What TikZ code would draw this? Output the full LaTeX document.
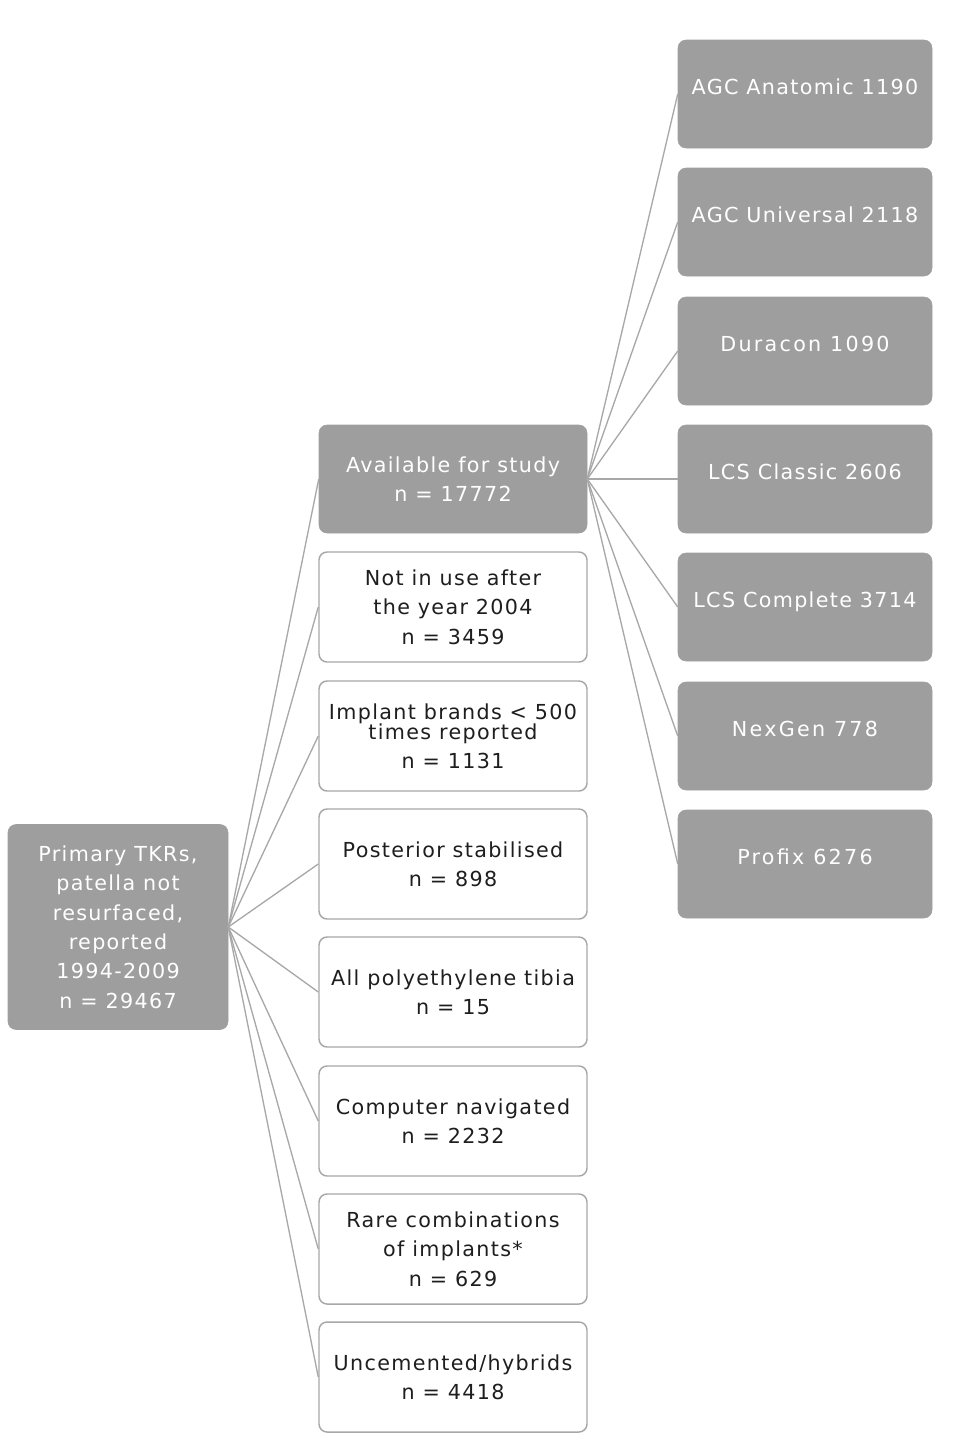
\documentclass[tikz,border=0pt]{standalone}
\usepackage{fontspec}
\setmainfont[LetterSpace=6.5]{DejaVu Sans}
\newfontfamily\widefont[LetterSpace=11]{DejaVu Sans}
\definecolor{boxgray}{HTML}{9E9E9E}
\definecolor{linegray}{HTML}{A8A8A8}
\definecolor{textdark}{HTML}{1E1E1E}
\tikzset{
  graybox/.style={draw=boxgray, fill=boxgray, text=white, rounded corners=6pt, align=center},
  whitebox/.style={draw=linegray, line width=1.1pt, fill=white, text=textdark, rounded corners=6pt, align=center,
    minimum width=201pt, minimum height=82.5pt},
  brandbox/.style={graybox, minimum width=190.5pt, minimum height=81pt, text height=12pt, text depth=12pt},
  link/.style={draw=linegray, line width=1pt}
}
\begin{document}
\begin{tikzpicture}[x=0.75pt, y=-0.75pt, font=\fontsize{15.5}{22}\selectfont]
\useasboundingbox (0,0) rectangle (963,1439);
% root box
\node[graybox, minimum width=165pt, minimum height=153.75pt] (root) at (118,927)
  {Primary TKRs,\\patella not\\resurfaced,\\reported\\1994-2009\\n = 29467};
% second column
\node[graybox, minimum width=201pt, minimum height=81pt] (mid0) at (453,479)
  {Available for study\\n = 17772};
\foreach \y/\i/\t in {607/1/{Not in use after\\the year 2004\\n = 3459},
                      736/2/{Implant brands < 500\\[-7pt]times reported\\n = 1131},
                      864/3/{Posterior stabilised\\n = 898},
                      992/4/{All polyethylene tibia\\n = 15},
                      1121/5/{Computer navigated\\n = 2232},
                      1249/6/{Rare combinations\\of implants*\\n = 629},
                      1377/7/{Uncemented/hybrids\\n = 4418}}
  \node[whitebox] (mid\i) at (453,\y) {\t};
% brands
\foreach \y/\i/\t in {94/1/AGC Anatomic 1190, 222/2/AGC Universal 2118, 351/3/{\widefont Duracon 1090},
                      479/4/LCS Classic 2606, 607/5/LCS Complete 3714, 736/6/{\widefont NexGen 778},
                      864/7/{\widefont Profix 6276}}
  \node[brandbox] (brand\i) at (805,\y) {\t};
% connectors
\foreach \i in {0,...,7}
  \draw[link] (root.east) -- (mid\i.west);
\foreach \i in {1,...,7}
  \draw[link] (mid0.east) -- (brand\i.west);
\end{tikzpicture}
\end{document}
